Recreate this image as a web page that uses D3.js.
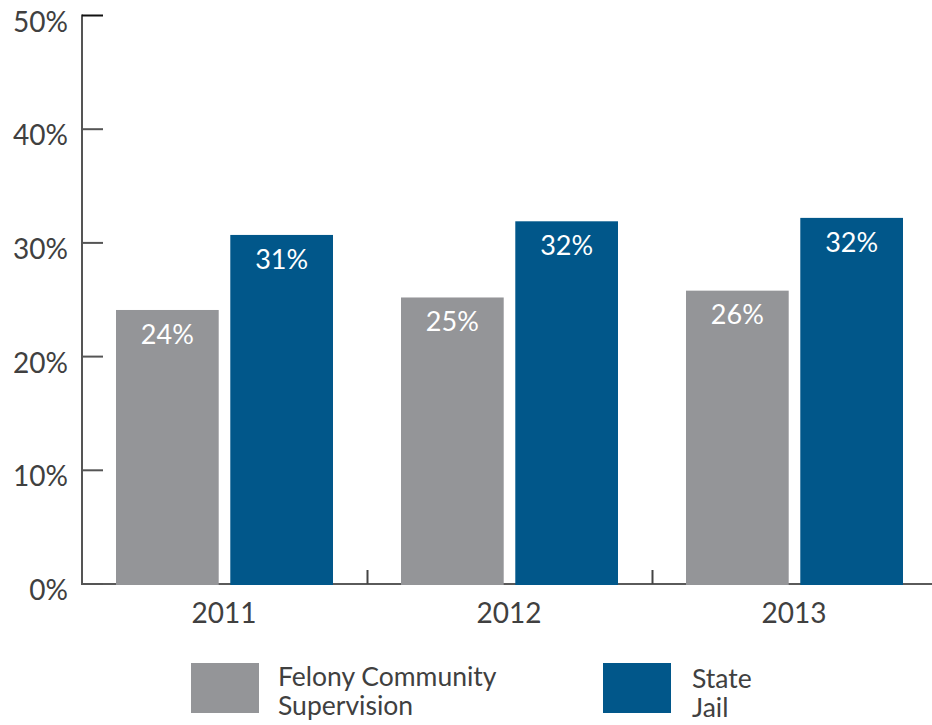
<!DOCTYPE html>
<html><head><meta charset="utf-8">
<script src="https://cdn.jsdelivr.net/npm/d3@7"></script>
<style>
html,body{margin:0;padding:0;background:#fff;}
svg text{font-family:Lato,"Open Sans",sans-serif;}
</style></head>
<body>
<svg id="chart" width="932" height="725"></svg>
<script>
const years = ["2011","2012","2013"];
const seriesNames = ["Felony Community Supervision","State Jail"];
const felonyCS = [24.1, 25.2, 25.8];
const stateJail = [30.7, 31.9, 32.2];
const valueLabels = [["24%","25%","26%"],["31%","32%","32%"]];
const yTicks = [0,10,20,30,40,50];
const colors = ["#949598","#01578a"];
const textColor = "#404040";

const svg = d3.select("#chart");
const x0 = 82, yBase = 584, yTop = 15.5;
const x = d3.scaleBand().domain(years).range([x0, x0 + 285*3]).paddingInner(0).paddingOuter(0);
const y = d3.scaleLinear().domain([0,50]).range([yBase, yTop]);
const xs = d3.scaleBand().domain(seriesNames).range([34, 251]).paddingInner(11/217*2);
const seriesData = [felonyCS, stateJail];

// x axis line
svg.append("line").attr("x1", x0).attr("x2", 932).attr("y1", yBase).attr("y2", yBase)
  .attr("stroke", "#5a5a5a").attr("stroke-width", 2);
// x ticks between groups
years.slice(1).forEach(yr => {
  const px = Math.round(x(yr)) + 0.5;
  svg.append("line").attr("x1", px).attr("x2", px).attr("y1", yBase).attr("y2", yBase - 14)
    .attr("stroke", "#444").attr("stroke-width", 2);
});

// y axis
svg.append("line").attr("x1", x0).attr("x2", x0).attr("y1", yTop - 1).attr("y2", yBase + 1)
  .attr("stroke", "#555").attr("stroke-width", 2);
yTicks.forEach(t => {
  svg.append("line").attr("x1", x0).attr("x2", x0 + 21).attr("y1", y(t)).attr("y2", y(t))
    .attr("stroke", t === 50 ? "#111" : "#555").attr("stroke-width", 2);
  svg.append("text").attr("x", 68).attr("y", y(t) + 6).attr("dy", "0.36em")
    .attr("text-anchor", "end").attr("font-size", 28).attr("fill", textColor).text(t + "%");
});

// bars
seriesNames.forEach((s, si) => {
  years.forEach((yr, i) => {
    const bx = x(yr) + xs(s);
    const v = seriesData[si][i];
    svg.append("rect").attr("x", bx).attr("y", y(v)).attr("width", xs.bandwidth())
      .attr("height", yBase + 1 - y(v)).attr("fill", colors[si]);
    svg.append("text").attr("x", bx + xs.bandwidth()/2).attr("y", y(v) + 24).attr("dy", "0.36em")
      .attr("text-anchor", "middle").attr("font-size", 27).attr("fill", "#fff").text(valueLabels[si][i]);
  });
});

// year labels
years.forEach(yr => {
  svg.append("text").attr("x", x(yr) + x.bandwidth()/2 - 0.5).attr("y", 613).attr("dy", "0.36em")
    .attr("text-anchor", "middle").attr("font-size", 28).attr("fill", textColor).text(yr);
});

// legend
const legendItems = [
  {sx: 191, lines: ["Felony Community","Supervision"]},
  {sx: 603, lines: ["State","Jail"]}
];
legendItems.forEach((it, i) => {
  svg.append("rect").attr("x", it.sx).attr("y", 663).attr("width", 68).attr("height", 50).attr("fill", colors[i]);
  const t = svg.append("text").attr("x", it.sx + 87).attr("y", 686).attr("font-size", 26.5).attr("fill", textColor);
  it.lines.forEach((ln, j) => {
    t.append("tspan").attr("x", it.sx + 87 + (i===1?2:0)).attr("dy", j === 0 ? (i===1?2:0) : 29).text(ln);
  });
});
</script>
</body></html>
